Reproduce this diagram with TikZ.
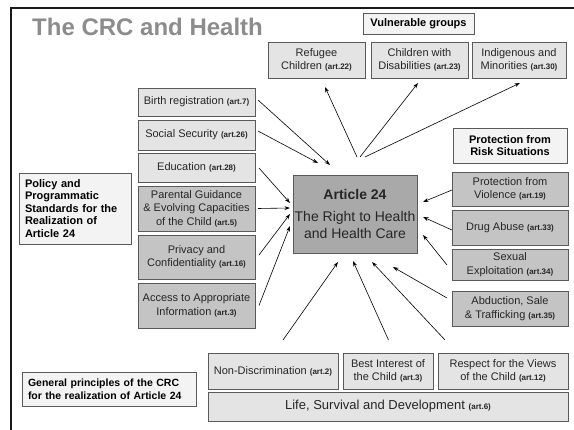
\documentclass[tikz,border=0pt]{standalone}
\usepackage{fontspec}
\setmainfont{Liberation Sans}
\usetikzlibrary{arrows.meta,shadows,calc}

% small bold article reference
\newcommand\artno[1]{{\fontsize{8}{9}\selectfont\bfseries(art.#1)}}

\definecolor{frameline}{HTML}{1A1A1A}
\definecolor{titlegray}{HTML}{8C8C8C}
\definecolor{boxedge}{HTML}{5A5A5A}
\definecolor{paleboxfill}{HTML}{E4E4E4}
\definecolor{midboxfill}{HTML}{C4C4C4}
\definecolor{coreboxfill}{HTML}{A9A9A9}
\definecolor{labelfill}{HTML}{F3F3F3}
\definecolor{boxtext}{HTML}{262626}

\tikzset{
  basebox/.style={draw=boxedge, line width=0.7pt, inner sep=0pt, outer sep=0pt,
    align=center, text=boxtext, font=\fontsize{11}{13.5}\selectfont,
    drop shadow={shadow xshift=1.1pt, shadow yshift=-1.1pt, fill=black!45, opacity=0.9}},
  palebox/.style={basebox, fill=paleboxfill},
  midbox/.style={basebox, fill=midboxfill},
  corebox/.style={basebox, fill=coreboxfill, font=\fontsize{14}{17}\selectfont},
  labelbox/.style={basebox, fill=labelfill, text=black,
    font=\fontsize{11}{12.5}\selectfont\bfseries},
  arr/.style={line width=0.6pt, draw=black, -{Stealth[length=5.5pt,width=3.8pt]}},
}

\begin{document}
\begin{tikzpicture}[x=1pt, y=-1pt]
\useasboundingbox (0,0) rectangle (574,430);

% slide frame (left and top rules)
\draw[frameline, line width=1.2pt] (11,430) -- (11,8) -- (574,8);

% title
\node[anchor=base west, inner sep=0pt, text=titlegray,
      font=\fontsize{24}{28}\selectfont\bfseries] (title) at (32,36) {The CRC and Health};

% vulnerable groups
\node[labelbox, minimum width=111pt, minimum height=21pt] (vul) at (418.5,23.5) {Vulnerable groups};
\node[palebox, minimum width=97pt, minimum height=36pt] (refugee) at (316.5,60) {Refugee\\Children \artno{22}};
\node[palebox, minimum width=97pt, minimum height=36pt] (disab) at (419.5,60) {Children with\\Disabilities \artno{23}};
\node[palebox, minimum width=94pt, minimum height=36pt] (indig) at (519,60) {Indigenous and\\Minorities \artno{30}};

% policy and programmatic standards
\node[labelbox, minimum width=112pt, minimum height=71pt, text width=100pt, align=left] (policy) at (75,208.5)
  {Policy and\\Programmatic\\Standards for the\\Realization of\\Article 24};
\node[palebox, minimum width=117pt, minimum height=28pt] (birth) at (196.5,102) {Birth registration \artno{7}};
\node[palebox, minimum width=117pt, minimum height=30pt] (social) at (196.5,135) {Social Security \artno{26}};
\node[palebox, minimum width=117pt, minimum height=29pt] (edu) at (196.5,167.5) {Education \artno{28}};
\node[midbox, minimum width=117pt, minimum height=45pt] (parental) at (196.5,208.5)
  {Parental Guidance\\\& Evolving Capacities\\of the Child \artno{5}};
\node[midbox, minimum width=117pt, minimum height=44pt] (privacy) at (196.5,257) {Privacy and\\Confidentiality \artno{16}};
\node[midbox, minimum width=117pt, minimum height=45pt] (access) at (196.5,305.5) {Access to Appropriate\\Information \artno{3}};

% article 24
\node[corebox, minimum width=124pt, minimum height=78pt] (art) at (355,214)
  {\textbf{Article 24}\\[5pt]The Right to Health\\and Health Care};

% protection from risk situations
\node[labelbox, minimum width=114pt, minimum height=35pt] (risk) at (510,145.5) {Protection from\\Risk Situations};
\node[midbox, minimum width=116pt, minimum height=34pt] (violence) at (510,189) {Protection from\\Violence \artno{19}};
\node[midbox, minimum width=116pt, minimum height=35pt] (drug) at (510,227.5) {Drug Abuse \artno{33}};
\node[midbox, minimum width=116pt, minimum height=31pt] (sexual) at (510,264.5) {Sexual\\Exploitation \artno{34}};
\node[midbox, minimum width=116pt, minimum height=35pt] (abduction) at (510,308.5) {Abduction, Sale\\\& Trafficking \artno{35}};

% general principles
\node[labelbox, minimum width=174pt, minimum height=34pt, text width=162pt, align=left,
      font=\fontsize{10.5}{12.5}\selectfont\bfseries] (general) at (109,389)
  {General principles of the CRC\\for the realization of Article 24};
\node[palebox, minimum width=130pt, minimum height=36pt] (nondisc) at (273,371) {Non-Discrimination \artno{2}};
\node[palebox, minimum width=90pt, minimum height=36pt] (best) at (388,371) {Best Interest of\\the Child \artno{3}};
\node[palebox, minimum width=130pt, minimum height=36pt] (respect) at (503,371) {Respect for the Views\\of the Child \artno{12}};
\node[palebox, minimum width=360pt, minimum height=29pt, font=\fontsize{13}{15}\selectfont] (life) at (388,406.5)
  {Life, Survival and Development \artno{6}};

% standards feeding into article 24
\draw[arr] ($(birth.east)+(3,-2)$) -- ($(art.north)+(-25,-10)$);
\draw[arr] ($(social.east)+(3,-4)$) -- ($(art.north)+(-37,-12)$);
\draw[arr] ($(edu.east)+(4,0.5)$) -- ($(art.west)+(-3,-11)$);
\draw[arr] ($(parental.east)+(3,0)$) -- ($(art.west)+(-3,-6)$);
\draw[arr] ($(privacy.east)+(4,-2)$) -- ($(art.west)+(-3,0)$);
\draw[arr] ($(access.east)+(4,0)$) -- ($(art.west)+(-3,12)$);

% article 24 reaching vulnerable groups
\draw[arr] ($(art.north)+(2,-18)$) -- ($(refugee.south)+(8.5,9)$);
\draw[arr] ($(art.north)+(5,-18)$) -- ($(disab.south)+(-1.5,5)$);
\draw[arr] ($(art.north)+(10,-18)$) -- ($(indig.south)+(1,5)$);

% risk situations
\draw[arr] ($(violence.west)+(0,1)$) -- ($(art.east)+(6,-12)$);
\draw[arr] ($(drug.west)+(0,2.5)$) -- ($(art.east)+(6,3)$);
\draw[arr] ($(sexual.west)+(-5,0.5)$) -- ($(art.east)+(6,21)$);
\draw[arr] ($(abduction.west)+(-5,-10.5)$) -- ($(art.south)+(38,14)$);

% general principles
\draw[arr] ($(nondisc.north)+(10,-13)$) -- ($(art.south)+(-17,9)$);
\draw[arr] ($(best.north)+(0.5,-13)$) -- ($(art.south)+(-2,8)$);
\draw[arr] ($(respect.north)+(-58,-13)$) -- ($(art.south)+(17,9)$);
\end{tikzpicture}
\end{document}
